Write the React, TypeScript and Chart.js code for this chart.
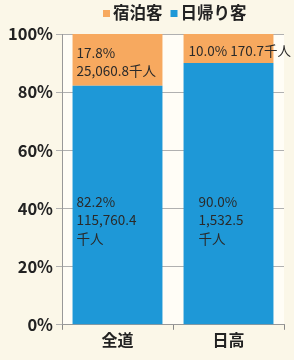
import React, { useEffect, useRef } from "react";
import { Chart, registerables } from "chart.js";

Chart.register(...registerables);

const categories = ["全道", "日高"];
const stayShare = [17.8, 10.0];
const dayShare = [82.2, 90.0];
const stayLabels = [["17.8%", "25,060.8千人"], ["10.0% 170.7千人"]];
const dayLabels = [["82.2%", "115,760.4", "千人"], ["90.0%", "1,532.5", "千人"]];
const yTicks = [0, 20, 40, 60, 80, 100];
const seriesNames = ["宿泊客", "日帰り客"];

const ORANGE = "#f7a95f";
const BLUE = "#1e98d7";
const FONT = "'Noto Sans CJK JP', 'Noto Sans', sans-serif";

const bgPlugin = {
  id: "bgPlugin",
  beforeDraw(chart: any) {
    const { ctx, chartArea } = chart;
    ctx.save();
    ctx.fillStyle = "#fbf7e8";
    ctx.fillRect(0, 0, chart.width, chart.height);
    ctx.fillStyle = "#fffdf6";
    ctx.fillRect(chartArea.left, chartArea.top, chartArea.right - chartArea.left, chartArea.bottom - chartArea.top);
    ctx.restore();
  },
};

const labelPlugin = {
  id: "labelPlugin",
  afterDatasetsDraw(chart: any) {
    const { ctx } = chart;
    const yScale = chart.scales.y;
    ctx.save();
    ctx.font = `13.5px ${FONT}`;
    ctx.fillStyle = "#2a2a2a";
    ctx.textBaseline = "middle";
    ctx.textAlign = "left";
    const lh = 18.5;
    const dayMeta = chart.getDatasetMeta(0);
    const stayMeta = chart.getDatasetMeta(1);
    categories.forEach((_, i) => {
      const sBar = stayMeta.data[i];
      const sTop = sBar.y;
      const sBottom = sBar.base;
      const sLines = stayLabels[i];
      const sMid = (sTop + sBottom) / 2;
      const left = sBar.x - sBar.width / 2;
      const off = i === 0 ? 4 : 5;
      sLines.forEach((t, k) => {
        ctx.fillText(t, left + off, sMid + (k - (sLines.length - 1) / 2) * lh + 2);
      });
      const dBar = dayMeta.data[i];
      const dLines = dayLabels[i];
      const dMid = yScale.getPixelForValue(36);
      const dOff = i === 0 ? 4 : 15;
      dLines.forEach((t, k) => {
        ctx.fillText(t, dBar.x - dBar.width / 2 + dOff, dMid + (k - (dLines.length - 1) / 2) * lh);
      });
    });
    ctx.restore();
  },
};

const legendPlugin = {
  id: "customLegend",
  afterDraw(chart: any) {
    const { ctx } = chart;
    ctx.save();
    ctx.font = `bold 16.5px ${FONT}`;
    ctx.textBaseline = "middle";
    ctx.textAlign = "left";
    const y = 13;
    const items = [
      { name: seriesNames[0], color: ORANGE },
      { name: seriesNames[1], color: BLUE },
    ];
    let x = 103;
    items.forEach((it) => {
      ctx.fillStyle = it.color;
      ctx.fillRect(x, y - 3, 7, 7);
      ctx.fillStyle = "#222";
      const tx = x + 10;
      ctx.fillText(it.name, tx, y);
      x = tx + ctx.measureText(it.name).width + 8;
    });
    ctx.restore();
  },
};

export default function App() {
  const ref = useRef<HTMLCanvasElement>(null);
  useEffect(() => {
    if (!ref.current) return;
    const chart = new Chart(ref.current, {
      type: "bar",
      data: {
        labels: categories,
        datasets: [
          { label: seriesNames[1], data: dayShare, backgroundColor: BLUE, borderWidth: 0 },
          { label: seriesNames[0], data: stayShare, backgroundColor: ORANGE, borderWidth: 0 },
        ],
      },
      options: {
        animation: false,
        responsive: false,
        maintainAspectRatio: false,
        devicePixelRatio: 1,
        layout: { padding: { top: 34, right: 10, bottom: 9, left: 0 } },
        plugins: { legend: { display: false }, tooltip: { enabled: false } },
        datasets: { bar: { categoryPercentage: 1, barPercentage: 0.81 } },
        scales: {
          x: {
            stacked: true,
            grid: { display: true, drawOnChartArea: false, drawTicks: true, tickLength: 5, color: "#888", offset: true },
            border: { color: "#999" },
            ticks: { font: { family: FONT, size: 16, weight: "bold" }, color: "#222", padding: 1 },
          },
          y: {
            stacked: true,
            min: 0,
            max: 100,
            afterBuildTicks(axis: any) {
              axis.ticks = yTicks.map((v) => ({ value: v }));
            },
            afterFit(axis: any) {
              axis.width = 62;
            },
            grid: { color: "#b0b0b0", tickLength: 6 },
            border: { color: "#999" },
            ticks: {
              font: { family: FONT, size: 16.5, weight: "bold" },
              color: "#222",
              padding: 3,
              callback: (v: any) => `${v}%`,
            },
          },
        },
      },
      plugins: [bgPlugin, labelPlugin, legendPlugin],
    });
    return () => chart.destroy();
  }, []);
  return (
    <div style={{ position: "fixed", left: 0, top: 0, width: 294, height: 360 }}>
      <canvas ref={ref} width={294} height={360} style={{ width: 294, height: 360, display: "block" }} />
    </div>
  );
}
